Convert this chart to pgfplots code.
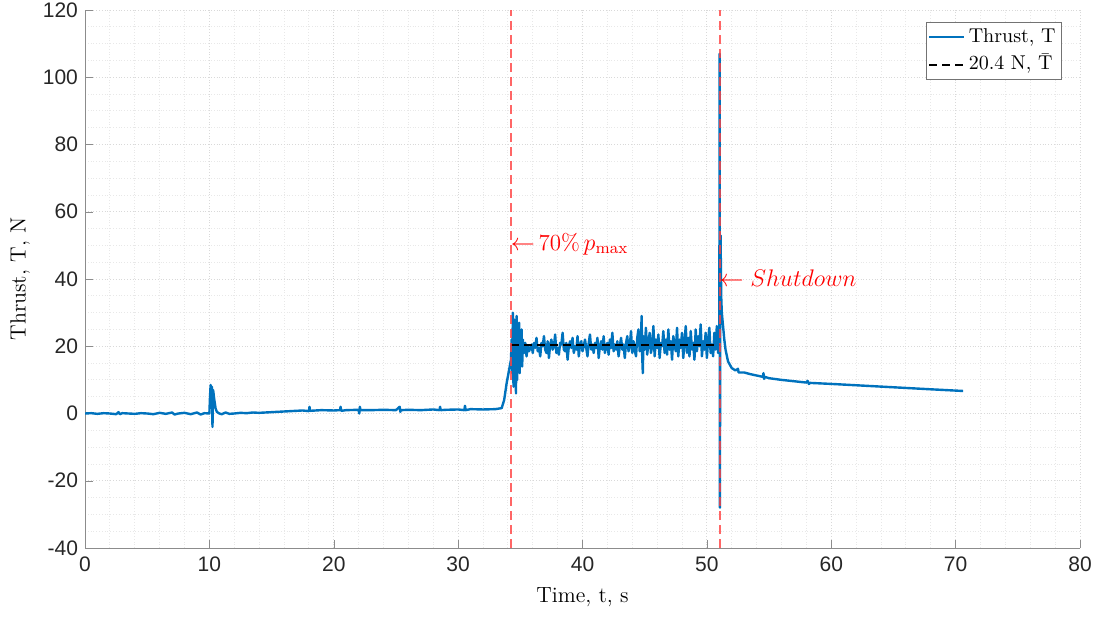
\documentclass[border=0pt]{standalone}
\usepackage{pgfplots}
\usepackage{pgfplotstable}
\pgfplotsset{compat=1.18}
\usepackage{fontspec}
\newfontfamily\arialfont{Liberation Sans}
\definecolor{mblue}{rgb}{0,0.447,0.741}
\definecolor{mred}{rgb}{1,0.25,0.25}

\pgfplotstableread{
t T
0 0
0.5 0.1
1 -0.1
1.5 0.1
2 0
2.5 -0.2
2.7 0.4
2.8 -0.2
3 0.1
3.5 0
4 -0.1
4.5 0.1
5 0
5.5 -0.2
6 0.2
6.5 -0.1
7 0.3
7.2 -0.3
7.5 0
8 0.2
8.5 -0.2
9 0.3
9.3 -0.3
9.6 0.1
10 0
10.05 5
10.1 8.5
10.15 3
10.2 8
10.25 -4
10.3 7
10.4 4
10.5 1.5
10.6 0.5
10.8 0
11 -0.2
11.3 0.3
11.6 -0.1
12 0
12.5 0.2
13 0.1
13.5 0.3
14 0.2
15 0.4
16 0.6
17 0.8
17.5 0.9
18 0.7
18.05 2
18.1 0.8
19 1
20 0.9
20.5 1
20.55 2
20.6 0.8
21 1
22 1.1
22.05 0
22.1 2
22.15 1
23 1
24 1.1
25 1
25.3 2
25.35 0.5
25.4 1
26 1.1
27 1
28 1.2
28.5 1
28.55 2
28.6 1
29 1.1
30 1.2
30.5 1
30.55 2.3
30.6 1
31 1.3
32 1.2
33 1.3
33.5 1.6
33.7 4
33.9 9
34.1 13
34.25 16
34.3 22
34.35 12
34.4 30
34.45 8
34.5 28
34.55 14
34.6 26
34.65 6
34.7 29
34.75 10
34.8 24
34.85 15
34.9 27
34.95 12
35.0 22
35.05 17
35.1 25
35.15 14
35.2 22
35.3 18
35.4 21
35.5 17
35.6 20
35.7 18.5
35.8 19.5
35.9 20.5
36.0 18
36.1 21
36.2 19.5
36.3 22.5
36.4 18.5
36.5 19.5
36.6 17
36.7 21
36.8 20
36.9 23
37.0 19
37.1 18
37.2 21.5
37.3 16.5
37.4 20.5
37.5 22
37.6 19
37.7 20
37.8 23.5
37.9 18
38.0 19.5
38.1 17.5
38.2 21
38.3 20.5
38.4 24
38.5 19
38.6 18.5
38.7 21
38.8 16
38.9 20
39.0 21.5
39.1 19.5
39.2 22.5
39.3 18
39.4 20
39.5 19
39.6 23
39.7 17
39.8 20.5
39.9 21.5
40.0 18.5
40.1 20
40.2 22
40.3 19.5
40.4 17
40.5 21
40.6 23.5
40.7 19
40.8 20.5
40.9 18
41.0 21
41.1 19.5
41.2 22.5
41.3 16.5
41.4 20
41.5 21.5
41.6 19
41.7 23
41.8 18
41.9 20
42.0 21
42.1 17.5
42.2 22
42.3 19.5
42.4 24
42.5 18.5
42.6 20.5
42.7 19
42.8 21.5
42.9 17
43.0 20
43.1 22.5
43.2 19
43.3 20.5
43.4 16.5
43.5 21
43.6 23
43.7 18.5
43.8 20
43.9 24.5
44.0 18
44.1 21.5
44.2 19
44.3 17
44.4 22.5
44.5 25
44.6 18.5
44.7 21
44.75 29
44.8 17
44.85 12
44.9 23
45.0 19
45.1 25.5
45.2 17.5
45.3 21
45.4 24
45.5 18
45.6 20
45.7 26
45.8 17
45.9 22
46.0 19.5
46.1 23.5
46.2 16.5
46.3 21
46.4 20
46.5 24.5
46.6 18
46.7 22
46.8 17.5
46.9 25
47.0 19
47.1 21.5
47.2 16
47.3 23
47.4 20.5
47.5 18.5
47.6 25.5
47.7 17
47.8 22
47.9 19.5
48.0 24
48.1 16.5
48.2 21
48.3 26
48.4 18
48.5 22.5
48.6 17
48.7 24.5
48.8 19
48.9 21
49.0 16
49.1 25
49.2 18.5
49.3 23
49.4 20
49.5 26.5
49.6 17
49.7 21.5
49.8 19
49.9 24
50.0 16.5
50.1 22
50.2 25.5
50.3 18
50.4 20.5
50.5 17
50.6 24
50.7 19
50.8 26
50.9 18
51.0 21
51.03 107
51.05 -28
51.07 30
51.1 53
51.15 35
51.2 30
51.3 26
51.4 22
51.5 19
51.7 15.5
52.0 13.5
52.3 12.8
52.5 13.3
52.55 12.2
53.0 12.2
53.5 11.7
54.0 11.3
54.5 10.9
54.55 12
54.6 10.3
54.65 10.9
55.0 10.5
56.0 10.0
57.0 9.6
58.0 9.2
58.1 9.7
58.2 8.8
58.3 9.1
60.0 8.8
62.0 8.4
64.0 8.0
66.0 7.6
68.0 7.2
70.6 6.7
}\thrust

\begin{document}
\begin{tikzpicture}
\begin{axis}[
  scale only axis,
  width=497.5pt, height=269pt,
  xmin=0, xmax=80, ymin=-40, ymax=120,
  axis lines=left,
  axis line style={-, draw=black!45},
  tick align=inside,
  major tick length=4pt,
  minor tick length=0pt,
  tick style={black!45},
  xtick={0,10,...,80},
  ytick={-40,-20,...,120},
  xticklabels={0,10,20,30,40,50,60,70,80},
  yticklabels={-40,-20,0,20,40,60,80,100,120},
  minor x tick num=4,
  minor y tick num=3,
  grid=both,
  major grid style={densely dotted, black!15},
  minor grid style={densely dotted, black!9},
  tick label style={font=\arialfont\fontsize{10.5}{12}\selectfont, text=black!85},
  xticklabel style={yshift=-1pt},
  xlabel={Time, t, s},
  ylabel={Thrust, T, N},
  label style={font=\fontsize{11}{13}\selectfont},
  xlabel style={at={(axis description cs:0.5,-0.0911)}, anchor=center},
  ylabel style={at={(axis description cs:-0.0653,0.5)}, anchor=center},
  legend style={at={(rel axis cs:1,1)}, anchor=north east, xshift=-9pt, yshift=-6pt,
    draw=black!55, fill=white, font=\fontsize{10}{12}\selectfont,
    inner sep=1pt, row sep=1.5pt},
  legend cell align=left,
  clip=true,
]
\addplot[mblue, line width=1.2pt, line join=round] table[x=t, y=T] {\thrust};
\addlegendentry{Thrust, T}
\addplot[black, line width=1pt, dash pattern=on 4pt off 2.5pt] coordinates {(34.25,20.4) (51.05,20.4)};
\addlegendentry{20.4 N, \smash{$\bar{\mathrm{T}}$}}
\addplot[mred, line width=1pt, opacity=0.8, dash pattern=on 4.5pt off 2.5pt, forget plot] coordinates {(34.25,-40) (34.25,120)};
\addplot[mred, line width=1pt, opacity=0.8, dash pattern=on 4.5pt off 2.5pt, forget plot] coordinates {(51.06,-40) (51.06,120)};
\node[anchor=west, inner sep=0pt, text=red, font=\fontsize{11.5}{14}\selectfont] at (axis cs:34.2,50.4) {$\leftarrow$\,70\%\,$p_{\max}$};
\node[anchor=west, inner sep=0pt, text=red, font=\fontsize{11.5}{14}\selectfont] at (axis cs:51.0,40.3) {$\leftarrow Shutdown$};
\end{axis}
\pgfresetboundingbox
\useasboundingbox ([shift={(-42.5pt,-34.5pt)}]current axis.south west) rectangle ([shift={(10pt,5pt)}]current axis.north east);
\end{tikzpicture}
\end{document}
